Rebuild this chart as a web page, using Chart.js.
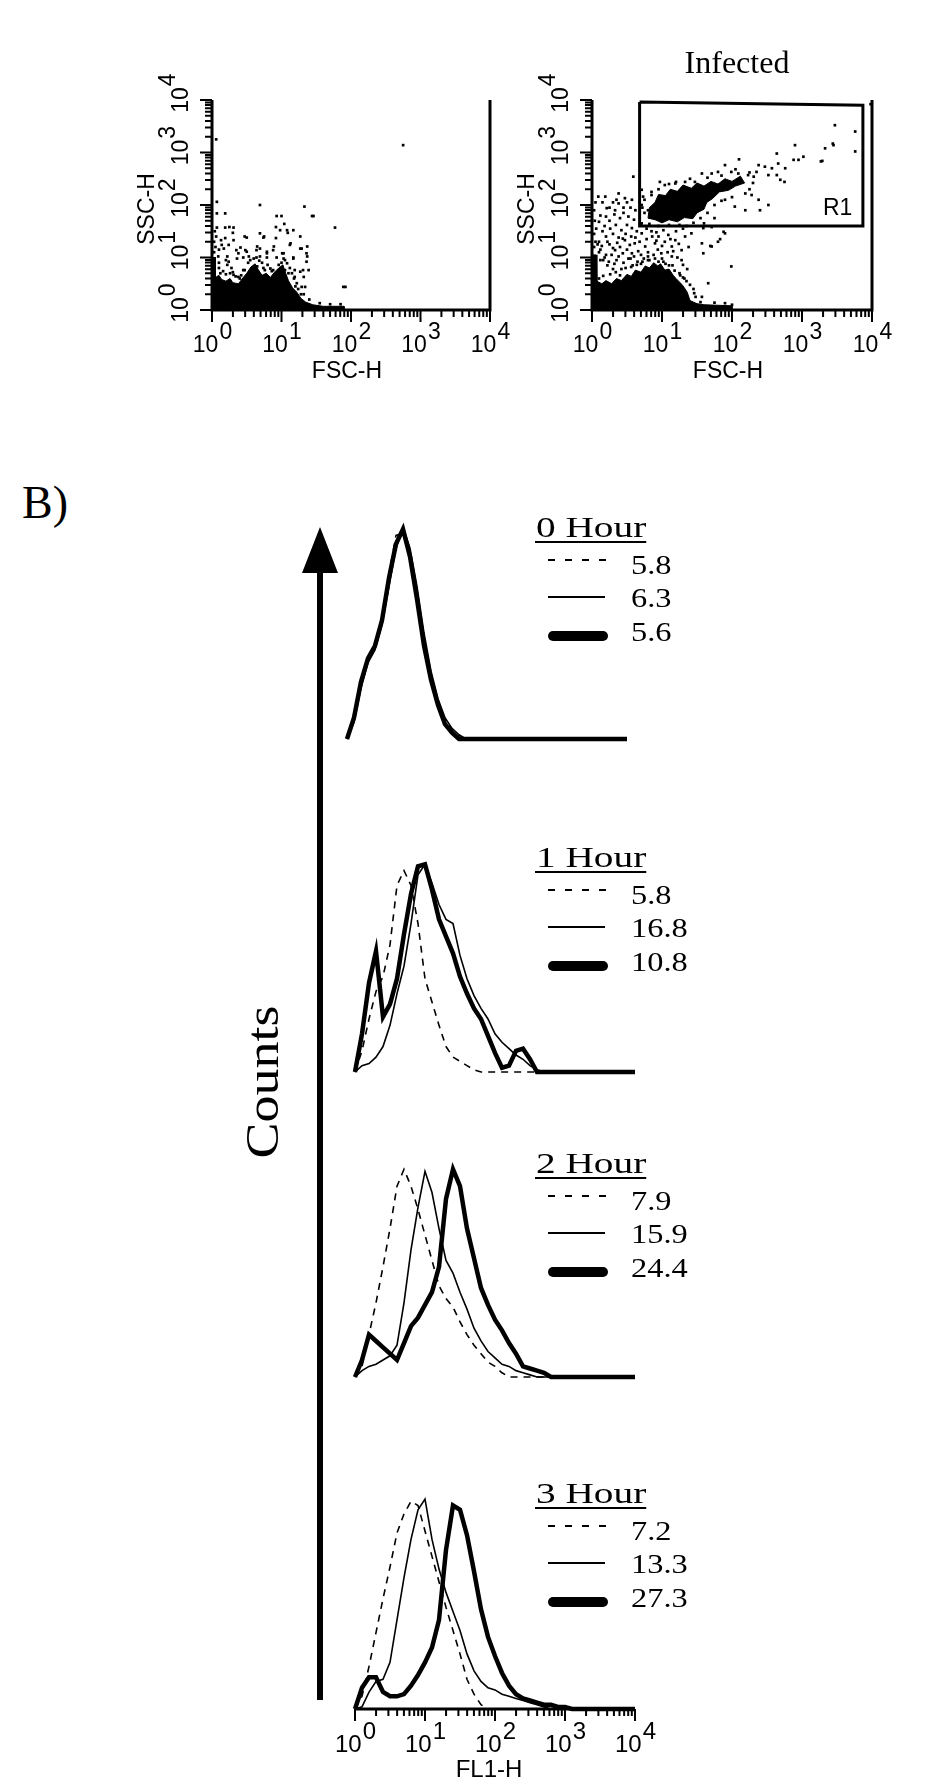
<!DOCTYPE html>
<html>
<head>
<meta charset="utf-8">
<script src="https://cdn.jsdelivr.net/npm/chart.js@4.4.1/dist/chart.umd.min.js"></script>
<style>
body{margin:0;background:#fff;width:929px;height:1788px;position:relative;overflow:hidden}
canvas{position:absolute}
.lbl{position:absolute;font-family:"Liberation Serif","Times New Roman",serif;color:#000;white-space:nowrap;line-height:1}
</style>
</head>
<body>
<canvas id="scatterCtrl" width="420" height="400" style="left:100px;top:0px"></canvas>
<canvas id="scatterInf" width="429" height="400" style="left:500px;top:0px"></canvas>
<div class="lbl" style="left:22px;top:480px;font-size:46px">B)</div>
<div class="lbl" style="left:262px;top:1082px;font-size:54px;transform:translate(-50%,-50%) rotate(-90deg) scaleY(0.87)">Counts</div>
<svg width="929" height="1788" style="position:absolute;left:0;top:0">
  <line x1="320" y1="565" x2="320" y2="1700" stroke="#000" stroke-width="6"/>
  <polygon points="320,527 302,573 338,573" fill="#000"/>
</svg>
<canvas id="hist0" width="420" height="280" style="left:300px;top:500px"></canvas>
<canvas id="hist1" width="420" height="280" style="left:300px;top:830px"></canvas>
<canvas id="hist2" width="420" height="280" style="left:300px;top:1135px"></canvas>
<canvas id="hist3" width="420" height="323" style="left:300px;top:1465px"></canvas>
<script>
// axes are log10 decades (10^0 .. 10^4)
var decades = [0, 1, 2, 3, 4];
var tickExps = ['0', '1', '2', '3', '4'];
var minorSteps = [2, 3, 4, 5, 6, 7, 8, 9];

// --- panel A: scatter, [log FSC-H, log SSC-H] ---
var ctrlDense = [[0,0],[0,1.0],[0.05,1.0],[0.05,0.62],[0.1,0.66],[0.14,0.58],[0.2,0.55],[0.26,0.6],[0.3,0.52],[0.38,0.5],[0.45,0.62],[0.5,0.7],[0.56,0.82],[0.62,0.88],[0.66,0.78],[0.72,0.66],[0.78,0.7],[0.84,0.62],[0.9,0.72],[0.96,0.8],[1.02,0.86],[1.06,0.7],[1.1,0.56],[1.16,0.42],[1.22,0.34],[1.28,0.22],[1.35,0.15],[1.45,0.1],[1.6,0.07],[1.9,0.07],[1.9,0],[0,0]];
var ctrlDots = [[0.06,3.25],[2.75,3.14],[0.07,2.06],[0.69,2.0],[1.33,1.97],[0.19,1.84],[1.46,1.79],[0.93,1.79],[1.0,1.79],[1.77,1.57],[0.07,1.57],[0.19,1.57],[0.31,1.57],[0.69,1.46],[0.98,1.52],[1.08,1.52],[1.17,1.52],[1.27,1.40],[0.19,1.37],[0.31,1.33],[0.5,1.38],[0.74,1.38],[0.17,1.17],[0.41,1.19],[0.48,1.14],[0.65,1.21],[0.89,1.21],[1.01,1.08],[1.13,1.27],[1.27,1.17],[1.37,1.21],[0.22,1.02],[0.36,0.98],[0.53,1.02],[0.69,1.02],[0.79,1.08],[1.03,0.98],[1.17,0.98],[1.37,1.02],[0.22,0.86],[0.31,0.67],[0.45,0.76],[0.65,0.83],[0.84,0.79],[1.08,0.89],[1.15,0.70],[1.27,0.73],[1.92,0.44],[1.32,0.63],[1.22,0.51],[1.34,0.44],
  [0.07,1.84],[1.44,1.79],[1.04,1.64],[0.25,1.58],[0.3,1.47],[0.92,1.58],[1.09,1.47],[0.47,1.40],[0.75,1.40],[0.92,1.37],[0.13,1.33],[0.14,1.24],[0.24,1.24],[0.35,1.14],[0.5,1.11],[0.64,1.14],[0.69,1.17],[0.79,1.11],[0.88,1.14],[1.03,1.08],[1.12,1.24],[1.29,1.17],[1.36,1.08],[0.09,1.02],[0.24,0.92],[0.38,1.08],[0.45,1.0],[0.64,1.0],[0.79,1.0],[0.93,1.0],[1.05,0.95],[1.17,1.0],[1.36,0.92],[0.47,0.76],[0.57,0.79],[0.76,0.76],[0.88,0.76],[1.05,0.76],[1.19,0.76],[1.31,0.76],[1.39,0.76],[1.89,0.44],[0.38,0.63],[1.19,0.63],[1.29,0.44],
  [0.12,0.7],[0.2,0.68],[0.3,0.72],[0.42,0.66],[0.55,0.95],[0.6,0.98],[0.72,0.9],[0.8,0.86],[0.96,0.86],[1.1,0.7],[1.2,0.45],[1.28,0.3],[1.4,0.2],[1.55,0.13],[1.7,0.11],[1.85,0.11],
  [0.1,0.8],[0.16,0.74],[0.26,0.7],[0.34,0.64],[0.4,0.6],[0.52,0.9],[0.68,0.94],[0.74,0.8],[0.86,0.74],[1.0,0.9],[1.12,0.8],[1.18,0.6],[1.24,0.4],[1.32,0.3],[0.2,0.95],[0.28,0.8],[0.56,0.7],[0.98,0.64],
  [0.03,1.1],[0.05,1.2],[0.03,1.3],[0.06,1.4],[0.04,1.5],[0.1,0.9],[0.1,1.15]];
var ctrlStray = [[1.44,5.45]];

var infGate = [[0.68,3.96],[3.87,3.9],[3.87,1.6],[0.68,1.6],[0.68,3.96]];
var infDenseLow = [[0,0],[0,1.05],[0.06,1.05],[0.07,0.55],[0.14,0.5],[0.2,0.56],[0.28,0.5],[0.35,0.6],[0.42,0.56],[0.5,0.68],[0.56,0.64],[0.62,0.76],[0.7,0.72],[0.76,0.84],[0.82,0.8],[0.88,0.9],[0.94,0.84],[0.98,0.88],[1.04,0.76],[1.1,0.78],[1.16,0.66],[1.2,0.6],[1.26,0.52],[1.3,0.46],[1.36,0.34],[1.4,0.18],[1.5,0.12],[1.6,0.1],[2.0,0.08],[2.0,0],[0,0]];
var infDenseGate = [[0.8,1.75],[0.82,1.95],[0.9,2.05],[0.95,2.2],[1.05,2.18],[1.12,2.3],[1.22,2.26],[1.3,2.38],[1.42,2.32],[1.5,2.42],[1.6,2.36],[1.7,2.45],[1.8,2.4],[1.9,2.5],[2.0,2.45],[2.12,2.55],[2.18,2.42],[2.05,2.36],[1.95,2.28],[1.82,2.25],[1.72,2.12],[1.64,2.05],[1.6,1.92],[1.5,1.85],[1.44,1.74],[1.32,1.76],[1.22,1.68],[1.1,1.72],[1.0,1.66],[0.9,1.72],[0.8,1.75]];
var infDots = [[3.47,3.52],[3.76,3.40],[3.76,3.02],[3.45,3.14],[3.33,3.08],[2.9,3.14],[3.02,2.92],[2.88,2.86],[2.95,2.86],[3.27,2.83],[2.64,2.98],[2.66,2.79],[2.1,2.87],[2.38,2.76],[2.47,2.73],[2.57,2.7],[2.76,2.7],[2.35,2.63],[2.31,2.54],[2.23,2.57],[2.52,2.57],[2.64,2.57],[2.69,2.48],[2.75,2.44],[1.9,2.76],[1.57,2.6],[1.71,2.6],[1.8,2.63],[1.99,2.63],[2.09,2.6],[0.59,2.54],[0.97,2.44],[1.04,2.38],[1.19,2.41],[1.33,2.44],[1.47,2.44],[2.19,2.22],[2.28,2.19],[2.38,2.1],[2.52,2.0],[2.4,1.9],[2.19,1.9],[2.04,1.97],[1.9,2.1],[3.98,3.92],[3.29,2.84],[3.44,3.17],
  [0.38,2.22],[0.47,2.13],[0.57,2.1],[0.38,2.03],[0.19,2.16],[0.09,2.16],[0.21,1.94],[0.33,1.9],[0.52,1.78],[0.71,1.65],[0.85,1.78],[0.71,2.29],[0.73,2.16],[0.85,2.19],[0.71,2.0],[0.8,1.9],[0.75,1.85],[0.9,1.95],[0.68,2.05],[0.62,1.9],[0.45,1.95],[0.3,2.05],[0.15,2.05],[0.12,1.8],[0.25,1.7],[0.4,1.75],[0.5,1.62],[0.6,1.72],
  [0.57,1.56],[0.71,1.46],[0.85,1.5],[0.95,1.4],[1.09,1.43],[1.19,1.33],[1.33,1.4],[1.42,1.46],[1.59,1.56],[1.71,1.58],[1.9,1.46],[0.47,1.33],[0.61,1.27],[0.76,1.21],[0.9,1.27],[1.04,1.3],[1.14,1.21],[1.28,1.14],[1.57,1.27],[1.71,1.21],[1.8,1.3],[0.33,1.14],[0.57,1.08],[0.8,1.02],[0.99,1.08],[1.14,1.02],[1.28,0.95],[1.59,1.08],[1.99,0.83],[1.66,0.51],[1.57,0.25],[1.69,1.22],[2.0,0.1],[1.88,1.49],[1.83,1.35],
  [0.15,1.5],[0.2,1.4],[0.1,1.3],[0.25,1.25],[0.3,1.45],[0.38,1.38],[0.12,1.15],[0.2,1.05],[0.35,0.95],[0.45,0.9],[0.55,0.98],[0.65,0.92],[0.4,1.2],[0.28,1.05],[0.5,1.15],[0.7,1.05],[0.03,1.2],[0.05,1.3],[0.03,1.45],[0.06,1.55],[0.04,1.7],[0.03,1.9],[0.05,2.05],[0.08,1.25],[0.1,1.1],[0.16,0.95],[0.22,0.85],[0.3,0.78],[0.42,0.78],[0.58,0.85],[0.7,0.88],[0.82,0.95],[0.95,0.92],[1.05,0.88],[1.15,0.85],[1.25,0.7],[1.3,0.62],[1.35,0.55],[1.45,0.4],[1.48,0.25],[1.55,0.15],[1.75,0.14],[1.9,0.13],
  [0.7,1.62],[0.82,1.64],[0.95,1.6],[1.1,1.62],[1.25,1.62],[1.45,1.66],[1.55,1.75],[1.65,1.85],[1.75,2.0],[1.85,2.08],[2.0,2.15],[2.25,2.3],[2.3,2.42],[2.25,2.62],[2.05,2.68],[1.85,2.56],[1.65,2.52],[1.4,2.5],[1.2,2.44],[1.1,2.4],[0.95,2.3],[0.85,2.25],[0.75,2.1],[0.72,1.95],[1.6,1.65],[1.75,1.75],[1.35,1.6],
  [0.12,0.95],[0.18,1.0],[0.24,0.92],[0.32,0.88],[0.38,1.02],[0.44,1.08],[0.52,0.98],[0.6,1.02],[0.66,1.12],[0.74,0.98],[0.8,1.1],[0.88,1.05],[0.94,1.15],[1.0,0.98],[1.08,1.1],[1.16,1.12],[1.22,1.0],[1.3,0.86],[1.36,0.78],[0.14,1.22],[0.22,1.3],[0.3,1.18],[0.36,1.28],[0.44,1.36],[0.54,1.24],[0.62,1.38],[0.68,1.3],[0.78,1.35],[0.86,1.4],[0.92,1.32],[1.0,1.22],[1.12,1.35],[1.24,1.26],[1.38,1.2],[0.18,1.6],[0.26,1.55],[0.34,1.62],[0.42,1.52],[0.48,1.45],[0.56,1.4],[0.64,1.5],[0.78,1.55],[0.92,1.48],[1.02,1.52],[1.2,1.5],[1.3,1.55],[0.1,1.68],[0.2,1.78],[0.32,1.82],[0.45,1.85],[0.55,1.95],[0.35,2.1],[0.5,2.05],[0.25,1.95],
  [0.1,0.6],[0.16,0.65],[0.26,0.68],[0.34,0.72],[0.4,0.66],[0.48,0.8],[0.56,0.82],[0.64,0.86],[0.72,0.92],[0.8,0.95],[0.9,0.98],[1.02,0.92],[1.1,0.85],[1.18,0.75],[1.26,0.66],[1.32,0.6],[1.4,0.48],[1.46,0.32]];
var infStray = [[1.46,5.45]];

// --- panel B: FL1-H histograms, bins in log10 decades, counts as % of peak ---
var fl1Bins = [0,0.1,0.2,0.3,0.4,0.5,0.6,0.7,0.8,0.9,1,1.1,1.2,1.3,1.4,1.5,1.6,1.7,1.8,1.9,2,2.1,2.2,2.3,2.4,2.5,2.6,2.7,2.8,2.9,3,3.1,3.2,3.3,3.4,3.5,3.6,3.7,3.8,3.9,4];
var h0Dashed = [0,9,25,37,43,57,78,96,97,88, 70,48,30,18,9,4,1,0,0,0, 0,0,0,0,0,0,0,0,0,0, 0,0,0,0,0,0,0,0,0,0,0];
var h0Thin   = [0,8,24,36,42,54,72,90,100,90, 72,50,32,19,10,5,2,0,0,0, 0,0,0,0,0,0,0,0,0,0, 0,0,0,0,0,0,0,0,0,0,0];
var h0Thick  = [0,10,27,38,44,56,76,92,99,86, 66,44,28,16,7,3,0,0,0,0, 0,0,0,0,0,0,0,0,0,0, 0,0,0,0,0,0,0,0,0,0,0];
var h1Dashed = [0,10,25,38,45,60,88,95,88,70, 44,33,22,12,7,5,3,1,0,0, 0,0,0,0,0,0,0,0,0,0, 0,0,0,0,0,0,0,0,0,0,0];
var h1Thin   = [0,3,4,7,12,22,37,50,70,93, 98,89,79,72,70,55,44,36,30,25, 18,14,11,8,6,3,1,0,0,0, 0,0,0,0,0,0,0,0,0,0,0];
var h1Thick  = [0,18,42,57,26,32,44,65,84,97, 98,86,72,64,56,45,37,30,25,17, 9,2,3,10,11,6,0,0,0,0, 0,0,0,0,0,0,0,0,0,0,0];
var h2Dashed = [0,5,20,35,52,70,90,98,90,79, 67,55,43,37,33,26,20,15,11,7, 5,2,0,0,0,0,0,0,0,0, 0,0,0,0,0,0,0,0,0,0,0];
var h2Thin   = [0,3,5,6,8,10,15,35,60,80, 97,87,70,55,49,40,32,23,17,12, 9,6,5,3,2,1,0,0,0,0, 0,0,0,0,0,0,0,0,0,0,0];
var h2Thick  = [0,8,20,17,14,11,8,16,24,28, 34,40,52,84,98,90,70,56,42,34, 27,22,16,11,5,4,3,2,0,0, 0,0,0,0,0,0,0,0,0,0,0];
var h3Dashed = [0,6,20,36,52,67,83,92,98,96, 84,72,60,48,37,26,14,7,2,0, 0,0,0,0,0,0,0,0,0,0, 0,0,0,0,0,0,0,0,0,0,0];
var h3Thin   = [0,1,8,13,14,22,42,62,80,94, 99,80,66,55,46,37,26,18,13,10, 9,7,6,5,4,3,2,1,0,0, 0,0,0,0,0,0,0,0,0,0,0];
var h3Thick  = [0,10,15,15,8,6,6,7,11,16, 22,29,42,75,96,94,82,65,47,34, 25,17,11,7,5,4,3,2,2,1, 1,0,0,0,0,0,0,0,0,0,0];

var hourTitles = ['0 Hour', '1 Hour', '2 Hour', '3 Hour'];
var mfiDashed = ['5.8', '5.8', '7.9', '7.2'];
var mfiThin   = ['6.3', '16.8', '15.9', '13.3'];
var mfiThick  = ['5.6', '10.8', '24.4', '27.3'];

var SANS = '"Liberation Sans", Arial, sans-serif';
var SERIF = '"Liberation Serif", "Times New Roman", serif';

function toXY(pairs) {
  return pairs.map(function(p) { return {x: p[0], y: p[1]}; });
}

function drawPow(ctx, x, y, exp, size, rotated) {
  ctx.save();
  ctx.translate(x, y);
  if (rotated) ctx.rotate(-Math.PI / 2);
  ctx.font = size + 'px ' + SANS;
  ctx.textAlign = 'left';
  ctx.textBaseline = 'alphabetic';
  var wb = ctx.measureText('10').width;
  var we = ctx.measureText(exp).width;
  var x0 = rotated ? -wb / 2 : -(wb + we) / 2;
  ctx.fillText('10', x0, 0);
  ctx.fillText(exp, x0 + wb + 1, -Math.round(size * 0.55));
  ctx.restore();
}

// log ticks under an x scale
function drawXTicks(ctx, a, x) {
  ctx.lineWidth = 2;
  ctx.beginPath();
  decades.forEach(function(d) {
    var px = x.getPixelForValue(d);
    ctx.moveTo(px, a.bottom); ctx.lineTo(px, a.bottom + 12);
    if (d < 4) minorSteps.forEach(function(k) {
      var mx = x.getPixelForValue(d + Math.log10(k));
      ctx.moveTo(mx, a.bottom); ctx.lineTo(mx, a.bottom + 7);
    });
  });
  ctx.stroke();
}

function scatterFrame(extra) {
  return {
    id: 'scatterFrame',
    afterDatasetsDraw: function(chart) {
      var ctx = chart.ctx, a = chart.chartArea, x = chart.scales.x, y = chart.scales.y;
      ctx.save();
      ctx.strokeStyle = '#000';
      ctx.fillStyle = '#000';
      ctx.lineWidth = 3;
      ctx.beginPath();
      ctx.moveTo(a.left, a.top); ctx.lineTo(a.left, a.bottom);
      ctx.lineTo(a.right, a.bottom); ctx.lineTo(a.right, a.top);
      ctx.stroke();
      drawXTicks(ctx, a, x);
      ctx.beginPath();
      decades.forEach(function(d) {
        var py = y.getPixelForValue(d);
        ctx.moveTo(a.left, py); ctx.lineTo(a.left - 12, py);
        if (d < 4) minorSteps.forEach(function(k) {
          var my = y.getPixelForValue(d + Math.log10(k));
          ctx.moveTo(a.left, my); ctx.lineTo(a.left - 7, my);
        });
      });
      ctx.stroke();
      decades.forEach(function(d, i) {
        drawPow(ctx, x.getPixelForValue(d), a.bottom + 42, tickExps[i], 23, false);
        drawPow(ctx, a.left - 24, y.getPixelForValue(d), tickExps[i], 23, true);
      });
      ctx.font = '23px ' + SANS;
      ctx.textAlign = 'center';
      ctx.textBaseline = 'alphabetic';
      ctx.fillText('FSC-H', (a.left + a.right) / 2 - 4, a.bottom + 68);
      ctx.save();
      ctx.translate(a.left - 58, (a.top + a.bottom) / 2 + 4);
      ctx.rotate(-Math.PI / 2);
      ctx.fillText('SSC-H', 0, 0);
      ctx.restore();
      if (extra) extra(ctx, chart);
      ctx.restore();
    }
  };
}

function polygonSet(pairs) {
  return {type: 'line', data: toXY(pairs), showLine: true, fill: 'shape', backgroundColor: '#000',
    borderColor: '#000', borderWidth: 1, pointRadius: 0, tension: 0};
}
function dotSet(pairs, noClip) {
  var ds = {data: toXY(pairs), pointStyle: 'rect', pointRadius: 1.9, backgroundColor: '#000', borderWidth: 0};
  if (noClip) ds.clip = false;
  return ds;
}

function baseOptions(pad, ymax) {
  return {
    responsive: false, animation: false, devicePixelRatio: 1, events: [],
    layout: {padding: pad, autoPadding: false},
    plugins: {legend: {display: false}, tooltip: {enabled: false}},
    scales: {
      x: {type: 'linear', min: 0, max: 4, display: false},
      y: {type: 'linear', min: 0, max: ymax, display: false}
    }
  };
}

new Chart(document.getElementById('scatterCtrl'), {
  type: 'scatter',
  data: {datasets: [polygonSet(ctrlDense), dotSet(ctrlDots), dotSet(ctrlStray, true)]},
  options: baseOptions({left: 112, right: 30, top: 100, bottom: 90}, 4),
  plugins: [scatterFrame(null)]
});

new Chart(document.getElementById('scatterInf'), {
  type: 'scatter',
  data: {datasets: [
    polygonSet(infDenseLow), polygonSet(infDenseGate), dotSet(infDots), dotSet(infStray, true),
    {type: 'line', data: toXY(infGate), borderColor: '#000', borderWidth: 3, pointRadius: 0, fill: false, tension: 0}
  ]},
  options: baseOptions({left: 92, right: 57, top: 100, bottom: 90}, 4),
  plugins: [scatterFrame(function(ctx) {
    ctx.textAlign = 'center';
    ctx.font = '32px ' + SERIF;
    ctx.fillText('Infected', 237, 73);
    ctx.textAlign = 'left';
    ctx.font = '23px ' + SANS;
    ctx.fillText('R1', 323, 215);
  })]
});

function histLegend(i, legendY, withAxis) {
  return {
    id: 'histLegend',
    afterDatasetsDraw: function(chart) {
      var ctx = chart.ctx, a = chart.chartArea, x = chart.scales.x;
      ctx.save();
      ctx.fillStyle = '#000';
      ctx.strokeStyle = '#000';
      ctx.textAlign = 'left';
      // title, underlined
      ctx.font = '30px ' + SERIF;
      ctx.textBaseline = 'alphabetic';
      var tw = ctx.measureText(hourTitles[i]).width * 1.31;
      ctx.save();
      ctx.translate(236, legendY - 5);
      ctx.scale(1.31, 1);
      ctx.fillText(hourTitles[i], 0, 0);
      ctx.restore();
      ctx.fillRect(235, legendY - 1, tw + 1, 2);
      // line samples
      ctx.lineWidth = 2;
      ctx.setLineDash([7, 10]);
      ctx.beginPath(); ctx.moveTo(248, legendY + 18); ctx.lineTo(306, legendY + 18); ctx.stroke();
      ctx.setLineDash([]);
      ctx.beginPath(); ctx.moveTo(248, legendY + 55); ctx.lineTo(305, legendY + 55); ctx.stroke();
      ctx.lineWidth = 10;
      ctx.lineCap = 'round';
      ctx.beginPath(); ctx.moveTo(253, legendY + 94); ctx.lineTo(303, legendY + 94); ctx.stroke();
      // MFI values
      ctx.font = '27px ' + SERIF;
      ctx.textBaseline = 'middle';
      [mfiDashed[i], mfiThin[i], mfiThick[i]].forEach(function(t, r) {
        ctx.save();
        ctx.translate(331, legendY + [25, 58, 92][r]);
        ctx.scale(1.2, 1);
        ctx.fillText(t, 0, 0);
        ctx.restore();
      });
      if (withAxis) {
        ctx.lineCap = 'butt';
        ctx.lineWidth = 3;
        ctx.beginPath(); ctx.moveTo(a.left, a.bottom); ctx.lineTo(a.right, a.bottom); ctx.stroke();
        drawXTicks(ctx, a, x);
        decades.forEach(function(d, k) {
          drawPow(ctx, x.getPixelForValue(d), a.bottom + 43, tickExps[k], 24, false);
        });
        ctx.font = '24px ' + SANS;
        ctx.textAlign = 'center';
        ctx.textBaseline = 'alphabetic';
        ctx.fillText('FL1-H', (a.left + a.right) / 2 - 6, a.bottom + 68);
      }
      ctx.restore();
    }
  };
}

function histSet(vals, width, dash) {
  return {
    data: fl1Bins.map(function(b, j) { return {x: b, y: vals[j]}; }),
    borderColor: '#000', borderWidth: width, borderDash: dash, pointRadius: 0,
    tension: 0, fill: false, clip: false
  };
}

function histChart(id, i, pad, legendY, dashed, thin, thick) {
  new Chart(document.getElementById(id), {
    type: 'line',
    data: {datasets: [histSet(thick, 4.5, []), histSet(thin, 1.6, []), histSet(dashed, 1.6, [7, 6])]},
    options: baseOptions(pad, 100),
    plugins: [histLegend(i, legendY, i === 3)]
  });
}

histChart('hist0', 0, {left: 47, right: 93, top: 27, bottom: 41}, 42, h0Dashed, h0Thin, h0Thick);
histChart('hist1', 1, {left: 55, right: 85, top: 30, bottom: 38}, 42, h1Dashed, h1Thin, h1Thick);
histChart('hist2', 2, {left: 55, right: 85, top: 30, bottom: 38}, 43, h2Dashed, h2Thin, h2Thick);
histChart('hist3', 3, {left: 55, right: 85, top: 32, bottom: 79}, 43, h3Dashed, h3Thin, h3Thick);
</script>
</body>
</html>
